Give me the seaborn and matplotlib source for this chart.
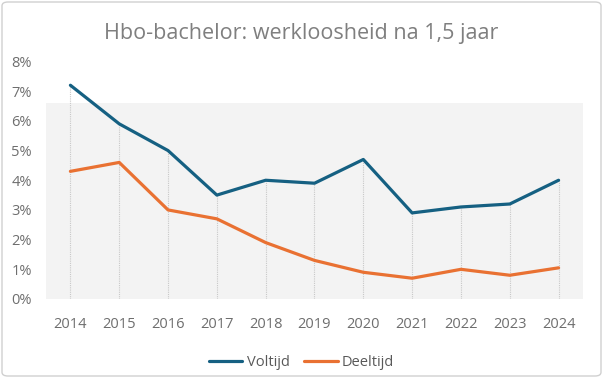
import matplotlib
matplotlib.use("Agg")
import matplotlib.pyplot as plt
import matplotlib.patches as mpatches
import matplotlib.transforms as mtransforms
import seaborn as sns
import pandas as pd
import numpy as np

years = [2014, 2015, 2016, 2017, 2018, 2019, 2020, 2021, 2022, 2023, 2024]
voltijd = [7.2, 5.9, 5.0, 3.5, 4.0, 3.9, 4.7, 2.9, 3.1, 3.2, 4.0]
deeltijd = [4.3, 4.6, 3.0, 2.7, 1.9, 1.3, 0.9, 0.7, 1.0, 0.8, 1.05]
series_names = ["Voltijd", "Deeltijd"]
y_ticks = [0, 1, 2, 3, 4, 5, 6, 7, 8]
title = "Hbo-bachelor: werkloosheid na 1,5 jaar"

df = pd.DataFrame({
    "jaar": years * 2,
    "waarde": [v / 100 for v in voltijd] + [v / 100 for v in deeltijd],
    "reeks": [series_names[0]] * len(years) + [series_names[1]] * len(years),
})

sns.set_theme(style="white")
plt.rcParams["font.family"] = ["Open Sans", "DejaVu Sans"]

fig = plt.figure(figsize=(6.03, 3.78), dpi=100)
ax = fig.add_axes([46 / 603, 79 / 378, (583 - 46) / 603, (299 - 61.5) / 378])

# light background band (as in reference)
trans = mtransforms.blended_transform_factory(ax.transAxes, ax.transData)
ax.add_patch(mpatches.Rectangle((0, 0), 1, 0.066, transform=trans,
                                facecolor="#f3f3f3", edgecolor="none", zorder=0))

# drop lines
ax.vlines(years, 0, [max(a, b) / 100 for a, b in zip(voltijd, deeltijd)],
          colors="#c8c8c8", linewidth=0.8, linestyles=(0, (1, 1)), zorder=1)

sns.lineplot(data=df, x="jaar", y="waarde", hue="reeks", ax=ax,
             palette={"Voltijd": "#156082", "Deeltijd": "#E97132"},
             linewidth=2.3, legend=False, zorder=3)

ax.set_xlim(2013.5, 2024.5)
ax.set_ylim(0, 0.08)
ax.set_xticks(years)
ax.set_xticklabels([str(y) for y in years])
ax.set_yticks([t / 100 for t in y_ticks])
ax.set_yticklabels([f"{t}%" for t in y_ticks])
ax.set_xlabel("")
ax.set_ylabel("")
for s in ax.spines.values():
    s.set_visible(False)
ax.tick_params(axis="x", length=0, pad=13, labelsize=10.5, labelcolor="#6e6e6e")
ax.tick_params(axis="y", length=0, pad=10, labelsize=10.5, labelcolor="#6e6e6e")
ax.grid(False)

fig.text(0.5, 1 - 33 / 378, title, ha="center", va="center",
         fontsize=15.5, color="#7f7f7f")

handles = [plt.Line2D([], [], color="#156082", lw=2.3),
           plt.Line2D([], [], color="#E97132", lw=2.3)]
fig.legend(handles, series_names, loc="center", bbox_to_anchor=(0.5, 1 - 363 / 378),
           ncol=2, frameon=False, fontsize=10.5, labelcolor="#595959",
           handlelength=2.3, handletextpad=0.3, columnspacing=1.0)

fig.patches.append(mpatches.FancyBboxPatch(
    (2 / 603, 2 / 378), 599 / 603, 374 / 378,
    boxstyle="round,pad=0,rounding_size=0.01", transform=fig.transFigure,
    facecolor="none", edgecolor="#d0d0d0", linewidth=1.0))

fig.savefig("out.png", dpi=100)
